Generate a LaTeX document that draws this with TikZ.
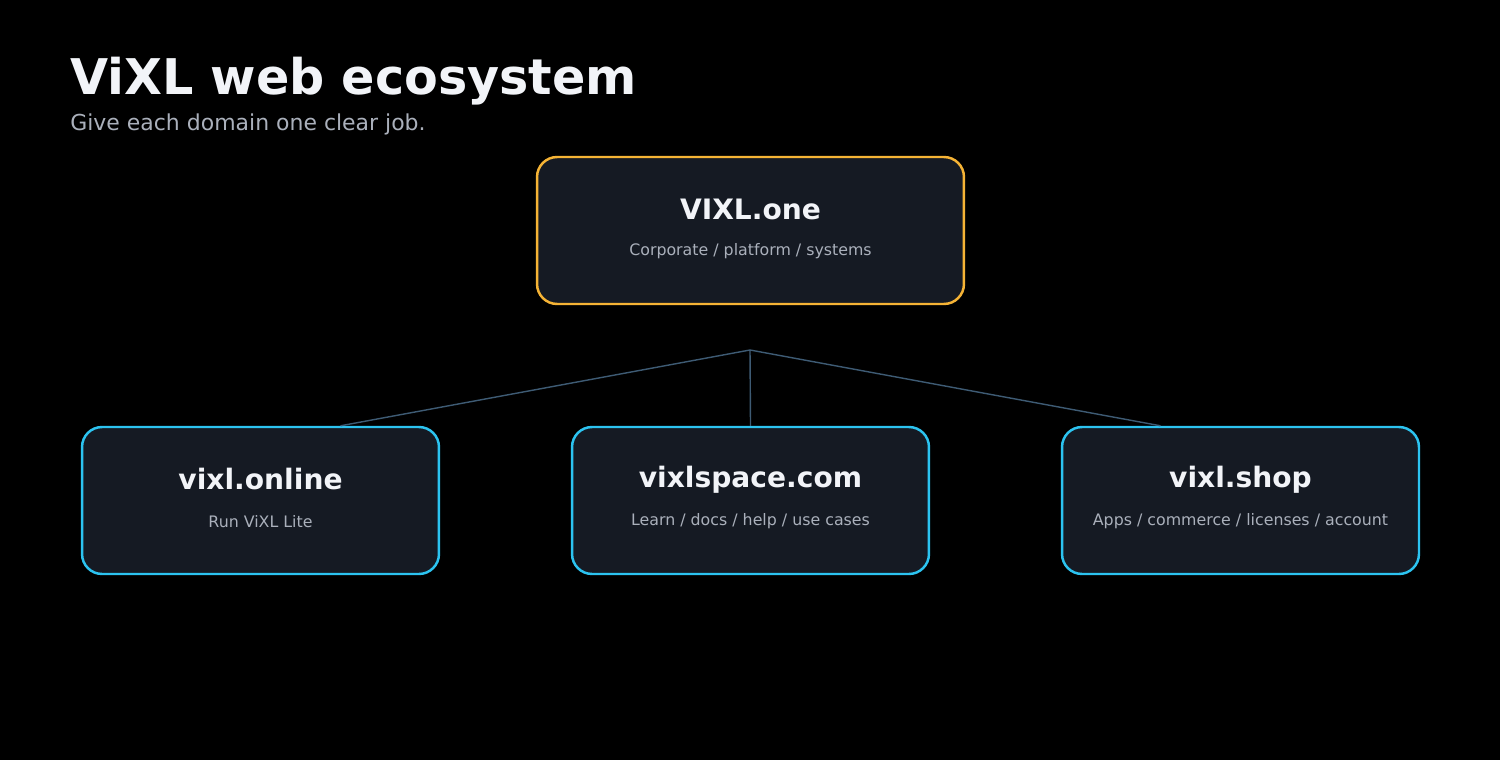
\documentclass[tikz,border=0pt]{standalone}
\usepackage{fontspec}
\setmainfont{DejaVu Sans}
\usetikzlibrary{calc}
\definecolor{boxfill}{HTML}{151A23}
\definecolor{gold}{HTML}{F5B335}
\definecolor{sky}{HTML}{2CC3F0}
\definecolor{wirecol}{HTML}{3E5B74}
\definecolor{ink}{HTML}{F2F4F8}
\definecolor{mute}{HTML}{AAB0BB}
\tikzset{
  sitebox/.style={draw=sky, fill=boxfill, line width=1.4pt, rounded corners=0.4cm,
    minimum width=7.14cm, minimum height=2.94cm, inner sep=0pt},
  hubbox/.style={sitebox, draw=gold, minimum width=8.54cm},
  dtitle/.style={text=ink, font=\fontsize{16}{19}\selectfont\bfseries, anchor=center},
  drole/.style={text=mute, font=\fontsize{9}{11}\selectfont, anchor=center},
  wire/.style={draw=wirecol, line width=0.8pt}
}
\begin{document}
\begin{tikzpicture}[x=0.02cm, y=-0.02cm]
  \fill[black] (0,0) rectangle (1500,760);
  \useasboundingbox (0,0) rectangle (1500,760);
  % heading
  \node[text=ink, font=\fontsize{28}{33}\selectfont\bfseries, anchor=base west, inner sep=0pt] (title) at (70,95) {ViXL web ecosystem};
  \node[text=mute, font=\fontsize{12.5}{15}\selectfont, anchor=base west, inner sep=0pt] (subtitle) at (70,131) {Give each domain one clear job.};
  % boxes
  \node[hubbox] (one) at (750.5,230.5) {};
  \node[sitebox] (online) at (260.5,500.5) {};
  \node[sitebox] (space) at (750.5,500.5) {};
  \node[sitebox] (shop) at (1240.5,500.5) {};
  % labels
  \node[dtitle] at ($(one.center)+(0,-21)$) {VIXL.one};
  \node[drole] at ($(one.center)+(0,21)$) {Corporate / platform / systems};
  \node[dtitle] at ($(online.center)+(0,-21)$) {vixl.online};
  \node[drole] at ($(online.center)+(0,21)$) {Run ViXL Lite};
  \node[dtitle] at ($(space.center)+(0,-21)$) {vixlspace.com};
  \node[drole] at ($(space.center)+(0,21)$) {Learn / docs / help / use cases};
  \node[dtitle] at ($(shop.center)+(0,-21)$) {vixl.shop};
  \node[drole] at ($(shop.center)+(0,21)$) {Apps / commerce / licenses / account};
  % connectors
  \coordinate (hub) at (750,350);
  \draw[wire] (hub) -- ($(online.north)+(80,0)$);
  \draw[wire] (hub) -- (space.north);
  \draw[wire] (hub) -- ($(shop.north)+(-80,0)$);
\end{tikzpicture}
\end{document}
